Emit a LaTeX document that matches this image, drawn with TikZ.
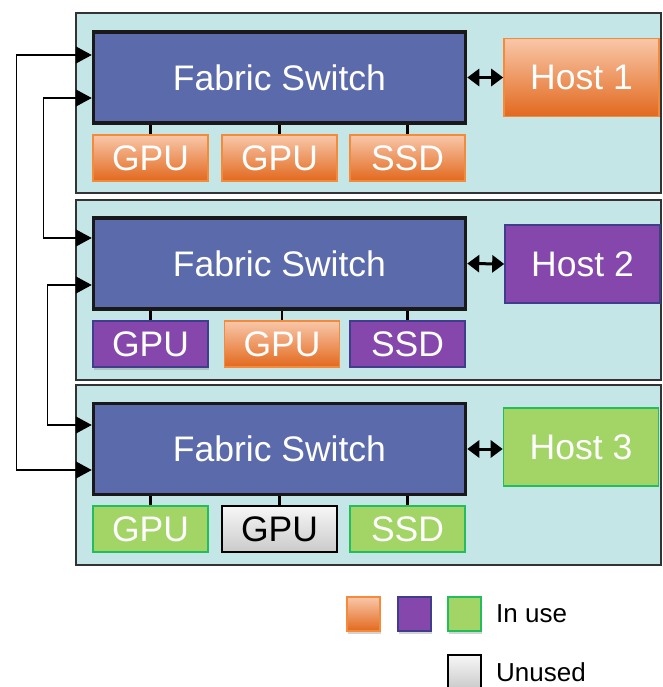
\documentclass[tikz,border=0pt]{standalone}
\usepackage{fontspec}
\setmainfont{Liberation Sans}
\usetikzlibrary{arrows.meta,shadows}

\definecolor{panelfill}{HTML}{C5E6E6}
\definecolor{switchfill}{HTML}{5B6AAB}
\definecolor{orangetop}{HTML}{F9C7A9}
\definecolor{orangebot}{HTML}{E2691E}
\definecolor{orangeline}{HTML}{F58A3B}
\definecolor{purplefill}{HTML}{8547AB}
\definecolor{purpleline}{HTML}{3F3E8C}
\definecolor{greenfill}{HTML}{A3D566}
\definecolor{greenline}{HTML}{22BE5E}
\definecolor{graytop}{HTML}{F7F7F7}
\definecolor{graybot}{HTML}{CACACA}

\tikzset{
  panel/.style={draw=black!80, line width=1.2pt, fill=panelfill,
    minimum width=585, minimum height=180, inner sep=0pt},
  switchbox/.style={draw=black!90, line width=3.5pt, fill=switchfill,
    minimum width=372, minimum height=91, inner sep=0pt,
    text=white, font=\fontsize{35.5}{40}\selectfont},
  dev/.style={minimum width=115, minimum height=46, inner sep=0pt,
    line width=1.6pt, text=white, font=\fontsize{35.5}{40}\selectfont},
  hostbox/.style={dev, minimum width=155, minimum height=78},
  inorange/.style={draw=orangeline, top color=orangetop, bottom color=orangebot},
  inpurple/.style={draw=purpleline, fill=purplefill},
  ingreen/.style={draw=greenline, fill=greenfill},
  unused/.style={draw=black, top color=graytop, bottom color=graybot, text=black},
  key/.style={minimum width=33, minimum height=34, inner sep=0pt, line width=1.6pt},
  softshadow/.style={drop shadow={shadow xshift=1pt, shadow yshift=-3pt, opacity=0.35}},
  stub/.style={line width=2.6pt},
  biarrow/.style={line width=3pt, {Triangle[length=12pt,width=17pt]}-{Triangle[length=12pt,width=17pt]}},
  feed/.style={line width=1.4pt, {Triangle[length=16pt,width=17pt]}-{Triangle[length=16pt,width=17pt]}},
  legendtext/.style={anchor=west, inner sep=0pt, font=\fontsize{26}{30}\selectfont}
}

\begin{document}
\begin{tikzpicture}[x=1pt,y=-1pt]
  \useasboundingbox (0,0) rectangle (662,687);

  % panels
  \node[panel] (pnl1) at (368.5,103) {};
  \node[panel] (pnl2) at (368.5,290) {};
  \node[panel] (pnl3) at (368.5,475) {};

  % fabric switches
  \node[switchbox] (sw1) at (279.5,77.5) {Fabric Switch};
  \node[switchbox] (sw2) at (279.5,263.5) {Fabric Switch};
  \node[switchbox] (sw3) at (279.5,449) {Fabric Switch};

  % hosts
  \node[hostbox,inorange] (host1) at (581.5,77.5) {Host 1};
  \node[hostbox,inpurple] (host2) at (582.5,264) {Host 2};
  \node[hostbox,ingreen] (host3) at (581,447) {Host 3};

  % devices
  \node[dev,inorange] (gpu11) at (150.5,158) {GPU};
  \node[dev,inorange] (gpu12) at (279.5,158) {GPU};
  \node[dev,inorange] (ssd1) at (407.5,158) {SSD};
  \node[dev,inpurple,softshadow] (gpu21) at (150.5,344) {GPU};
  \node[dev,inorange] (gpu22) at (282,344) {GPU};
  \node[dev,inpurple] (ssd2) at (407.5,344) {SSD};
  \node[dev,ingreen] (gpu31) at (150.5,529) {GPU};
  \node[dev,unused] (gpu32) at (279.5,529) {GPU};
  \node[dev,ingreen] (ssd3) at (407.5,529) {SSD};

  % switch to device links
  \draw[stub] (gpu11.north) -- (gpu11.north |- sw1.south);
  \draw[stub] (gpu12.north) -- (gpu12.north |- sw1.south);
  \draw[stub] (ssd1.north) -- (ssd1.north |- sw1.south);
  \draw[stub] (gpu21.north) -- (gpu21.north |- sw2.south);
  \draw[stub] (gpu22.north) -- (gpu22.north |- sw2.south);
  \draw[stub] (ssd2.north) -- (ssd2.north |- sw2.south);
  \draw[stub] (gpu31.north) -- (gpu31.north |- sw3.south);
  \draw[stub] (gpu32.north) -- (gpu32.north |- sw3.south);
  \draw[stub] (ssd3.north) -- (ssd3.north |- sw3.south);

  % switch to host links
  \draw[biarrow] (sw1.east) -- (host1.west);
  \draw[biarrow] (sw2.east) -- (host2.west);
  \draw[biarrow] (sw3.east) -- (host3.west |- sw3.east);

  % switch to switch links
  \draw[feed] ([yshift=22.5pt]sw1.west) -- ++(-75,0) |- ([yshift=-21pt]sw3.west);
  \draw[feed] ([yshift=-20.5pt]sw1.west) -- ++(-48,0) |- ([yshift=25.5pt]sw2.west);
  \draw[feed] ([yshift=-21.5pt]sw2.west) -- ++(-44,0) |- ([yshift=24pt]sw3.west);

  % legend
  \node[key,inorange,softshadow] (keyorange) at (363.5,614) {};
  \node[key,inpurple,softshadow] (keypurple) at (414.5,614) {};
  \node[key,ingreen,softshadow] (keygreen) at (464.5,614) {};
  \node[key,unused] (keygray) at (464.5,672) {};
  \node[legendtext] (inuse) at (496,614) {In use};
  \node[legendtext] (notused) at (496,672) {Unused};
\end{tikzpicture}
\end{document}
